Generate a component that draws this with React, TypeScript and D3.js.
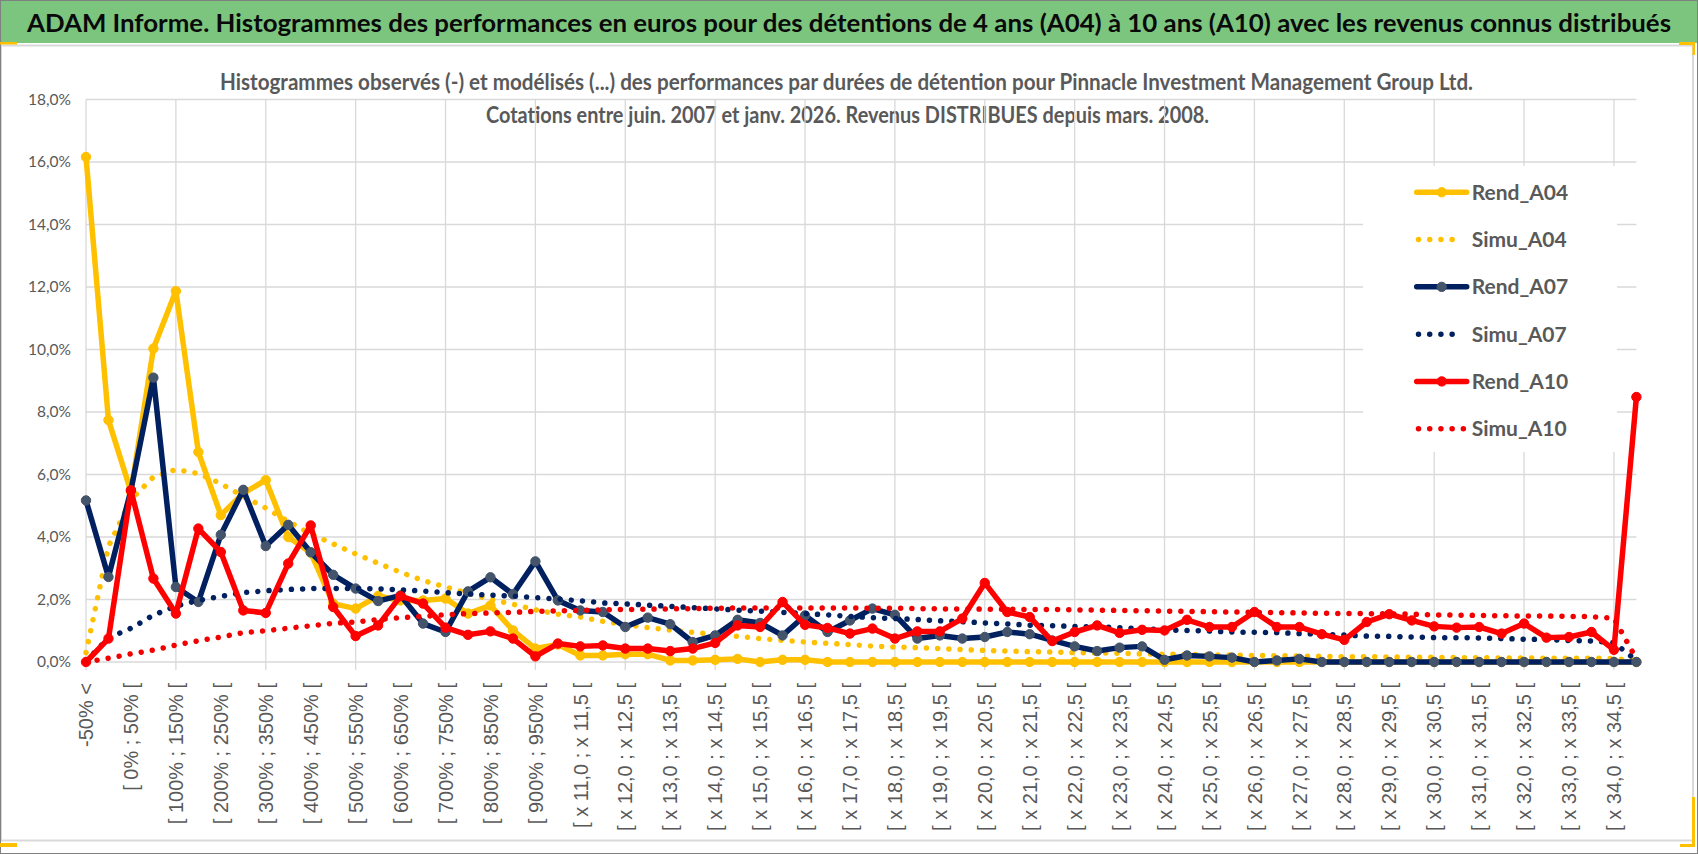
import React, { useEffect, useRef } from 'react';
import * as d3 from 'd3';

const categories = [
  '-50% <', '[ -50% ; 0% [', '[ 0% ; 50% [', '[ 50% ; 100% [', '[ 100% ; 150% [', '[ 150% ; 200% [',
  '[ 200% ; 250% [', '[ 250% ; 300% [', '[ 300% ; 350% [', '[ 350% ; 400% [', '[ 400% ; 450% [',
  '[ 450% ; 500% [', '[ 500% ; 550% [', '[ 550% ; 600% [', '[ 600% ; 650% [', '[ 650% ; 700% [',
  '[ 700% ; 750% [', '[ 750% ; 800% [', '[ 800% ; 850% [', '[ 850% ; 900% [', '[ 900% ; 950% [',
  '[ 950% ; x 11,0 [', '[ x 11,0 ; x 11,5 [', '[ x 11,5 ; x 12,0 [', '[ x 12,0 ; x 12,5 [', '[ x 12,5 ; x 13,0 [',
  '[ x 13,0 ; x 13,5 [', '[ x 13,5 ; x 14,0 [', '[ x 14,0 ; x 14,5 [', '[ x 14,5 ; x 15,0 [', '[ x 15,0 ; x 15,5 [',
  '[ x 15,5 ; x 16,0 [', '[ x 16,0 ; x 16,5 [', '[ x 16,5 ; x 17,0 [', '[ x 17,0 ; x 17,5 [', '[ x 17,5 ; x 18,0 [',
  '[ x 18,0 ; x 18,5 [', '[ x 18,5 ; x 19,0 [', '[ x 19,0 ; x 19,5 [', '[ x 19,5 ; x 20,0 [', '[ x 20,0 ; x 20,5 [',
  '[ x 20,5 ; x 21,0 [', '[ x 21,0 ; x 21,5 [', '[ x 21,5 ; x 22,0 [', '[ x 22,0 ; x 22,5 [', '[ x 22,5 ; x 23,0 [',
  '[ x 23,0 ; x 23,5 [', '[ x 23,5 ; x 24,0 [', '[ x 24,0 ; x 24,5 [', '[ x 24,5 ; x 25,0 [', '[ x 25,0 ; x 25,5 [',
  '[ x 25,5 ; x 26,0 [', '[ x 26,0 ; x 26,5 [', '[ x 26,5 ; x 27,0 [', '[ x 27,0 ; x 27,5 [', '[ x 27,5 ; x 28,0 [',
  '[ x 28,0 ; x 28,5 [', '[ x 28,5 ; x 29,0 [', '[ x 29,0 ; x 29,5 [', '[ x 29,5 ; x 30,0 [', '[ x 30,0 ; x 30,5 [',
  '[ x 30,5 ; x 31,0 [', '[ x 31,0 ; x 31,5 [', '[ x 31,5 ; x 32,0 [', '[ x 32,0 ; x 32,5 [', '[ x 32,5 ; x 33,0 [',
  '[ x 33,0 ; x 33,5 [', '[ x 33,5 ; x 34,0 [', '[ x 34,0 ; x 34,5 [', 'x 34,5 <',
];

const rendA04 = [
  16.16, 7.74, 5.45, 10.03, 11.87, 6.72, 4.70, 5.40, 5.82, 4.00,
  3.50, 1.87, 1.71, 2.11, 1.97, 1.97, 2.03, 1.55, 1.81, 1.01,
  0.43, 0.56, 0.21, 0.21, 0.25, 0.25, 0.05, 0.05, 0.07, 0.10,
  0.00, 0.07, 0.07, 0.00, 0.00, 0.00, 0.00, 0.00, 0.00, 0.00,
  0.00, 0.00, 0.00, 0.00, 0.00, 0.00, 0.00, 0.00, 0.00, 0.00,
  0.00, 0.00, 0.00, 0.00, 0.00, 0.00, 0.00, 0.00, 0.00, 0.00,
  0.00, 0.00, 0.00, 0.00, 0.00, 0.00, 0.00, 0.00, 0.00, 0.00,
];

const simuA04 = [
  0.30, 3.70, 5.20, 5.92, 6.16, 6.03, 5.71, 5.30, 4.93, 4.50,
  4.10, 3.78, 3.46, 3.16, 2.87, 2.61, 2.40, 2.20, 2.00, 1.85,
  1.67, 1.53, 1.44, 1.30, 1.20, 1.10, 1.02, 0.95, 0.88, 0.82,
  0.75, 0.69, 0.64, 0.60, 0.56, 0.51, 0.48, 0.46, 0.43, 0.40,
  0.37, 0.35, 0.33, 0.32, 0.30, 0.29, 0.28, 0.26, 0.25, 0.24,
  0.23, 0.22, 0.21, 0.20, 0.19, 0.18, 0.17, 0.17, 0.16, 0.15,
  0.15, 0.14, 0.14, 0.13, 0.13, 0.12, 0.12, 0.12, 0.11, 0.05,
];

const rendA07 = [
  5.17, 2.72, 5.50, 9.10, 2.40, 1.92, 4.07, 5.51, 3.71, 4.39,
  3.51, 2.79, 2.35, 1.95, 2.13, 1.23, 0.96, 2.26, 2.71, 2.17,
  3.22, 1.97, 1.65, 1.60, 1.12, 1.42, 1.21, 0.64, 0.85, 1.35,
  1.25, 0.85, 1.49, 0.96, 1.33, 1.71, 1.51, 0.75, 0.85, 0.75,
  0.80, 0.96, 0.89, 0.69, 0.50, 0.35, 0.46, 0.50, 0.07, 0.21,
  0.18, 0.14, 0.00, 0.05, 0.10, 0.00, 0.00, 0.00, 0.00, 0.00,
  0.00, 0.00, 0.00, 0.00, 0.00, 0.00, 0.00, 0.00, 0.00, 0.00,
];

const simuA07 = [
  0.02, 0.77, 1.08, 1.50, 1.79, 1.97, 2.10, 2.22, 2.28, 2.32,
  2.35, 2.35, 2.35, 2.34, 2.31, 2.27, 2.22, 2.18, 2.14, 2.11,
  2.06, 2.01, 1.96, 1.89, 1.86, 1.82, 1.78, 1.74, 1.70, 1.66,
  1.63, 1.59, 1.55, 1.51, 1.46, 1.42, 1.39, 1.36, 1.32, 1.29,
  1.25, 1.22, 1.18, 1.16, 1.14, 1.12, 1.10, 1.06, 1.03, 1.01,
  0.99, 0.96, 0.95, 0.94, 0.91, 0.89, 0.86, 0.83, 0.82, 0.80,
  0.78, 0.78, 0.77, 0.75, 0.73, 0.72, 0.69, 0.67, 0.62, 0.05,
];

const rendA10 = [
  0.00, 0.75, 5.49, 2.67, 1.55, 4.27, 3.52, 1.65, 1.57, 3.15,
  4.37, 1.76, 0.83, 1.17, 2.11, 1.87, 1.10, 0.87, 0.98, 0.75,
  0.18, 0.59, 0.50, 0.53, 0.43, 0.43, 0.35, 0.43, 0.61, 1.17,
  1.12, 1.92, 1.19, 1.09, 0.91, 1.07, 0.75, 0.98, 0.98, 1.39,
  2.53, 1.60, 1.44, 0.67, 0.96, 1.17, 0.93, 1.03, 1.01, 1.35,
  1.12, 1.12, 1.60, 1.12, 1.12, 0.89, 0.71, 1.28, 1.53, 1.33,
  1.14, 1.10, 1.12, 0.91, 1.23, 0.78, 0.80, 0.96, 0.39, 8.48,
];

const simuA10 = [
  0.00, 0.12, 0.26, 0.38, 0.54, 0.68, 0.80, 0.94, 1.00, 1.08,
  1.16, 1.24, 1.28, 1.36, 1.42, 1.46, 1.51, 1.55, 1.57, 1.59,
  1.62, 1.64, 1.65, 1.67, 1.68, 1.69, 1.70, 1.71, 1.72, 1.73,
  1.73, 1.73, 1.73, 1.73, 1.73, 1.72, 1.72, 1.71, 1.70, 1.70,
  1.69, 1.69, 1.68, 1.68, 1.67, 1.66, 1.65, 1.64, 1.63, 1.62,
  1.61, 1.60, 1.59, 1.58, 1.57, 1.56, 1.55, 1.55, 1.54, 1.53,
  1.51, 1.50, 1.49, 1.48, 1.47, 1.47, 1.46, 1.45, 1.40, 0.10,
];

const yTicks = [0, 2, 4, 6, 8, 10, 12, 14, 16, 18];

const seriesNames = ['Rend_A04', 'Simu_A04', 'Rend_A07', 'Simu_A07', 'Rend_A10', 'Simu_A10'];

const TITLE = 'ADAM Informe. Histogrammes des performances en euros pour des détentions de 4 ans (A04) à 10 ans (A10) avec les revenus connus distribués';
const SUB1 = 'Histogrammes observés (-) et modélisés (...) des performances par durées de détention pour Pinnacle Investment Management Group Ltd.';
const SUB2 = 'Cotations entre juin. 2007 et janv. 2026. Revenus DISTRIBUES depuis mars. 2008.';

const W = 1698;
const H = 854;

export default function App() {
  const ref = useRef<SVGSVGElement>(null);

  useEffect(() => {
    const svg = d3.select(ref.current);
    svg.selectAll('*').remove();

    const x = d3.scalePoint<string>().domain(categories).range([86, 1636.4]);
    const y = d3.scaleLinear().domain([0, 18]).range([662, 99.5]);

    // background frames
    svg.append('rect').attr('x', 0).attr('y', 0).attr('width', W).attr('height', H).attr('fill', '#ffffff');
    svg.append('rect').attr('x', 1).attr('y', 45.5).attr('width', 1692).attr('height', 795)
      .attr('fill', '#ffffff').attr('stroke', '#D9D9D9').attr('stroke-width', 2);
    svg.append('rect').attr('x', 0).attr('y', 0).attr('width', W).attr('height', 43).attr('fill', '#7CC57E');
    svg.append('rect').attr('x', 0.5).attr('y', 0.5).attr('width', W - 1).attr('height', H - 1)
      .attr('fill', 'none').attr('stroke', '#808080').attr('stroke-width', 1);

    // yellow corner handles
    const yellow = '#FFC000';
    [[0, 42, 17, 2.5], [1679, 42, 16, 3], [1692.5, 42, 2.5, 13], [1692, 797, 3, 50], [1680, 844, 15, 3], [0, 843, 17, 4]]
      .forEach(([rx, ry, rw, rh]) => {
        svg.append('rect').attr('x', rx).attr('y', ry).attr('width', rw).attr('height', rh).attr('fill', yellow);
      });

    // title
    svg.append('text').attr('x', 27).attr('y', 31.5)
      .attr('font-family', 'Lato, "Noto Sans", sans-serif').attr('font-weight', 700).attr('font-size', 25.5)
      .attr('fill', '#0a0a0a').attr('textLength', 1644).attr('lengthAdjust', 'spacingAndGlyphs').text(TITLE);

    // subtitle
    const subG = svg.append('g').attr('font-family', 'Lato, "Noto Sans", sans-serif').attr('font-weight', 700)
      .attr('font-size', 22).attr('fill', '#595959').attr('text-anchor', 'middle');
    subG.append('text').attr('x', 846.5).attr('y', 90).attr('textLength', 1253).attr('lengthAdjust', 'spacingAndGlyphs').text(SUB1);
    subG.append('text').attr('x', 847.5).attr('y', 123).attr('textLength', 723).attr('lengthAdjust', 'spacingAndGlyphs').text(SUB2);

    const grid = '#D9D9D9';
    const x0 = x(categories[0]) as number;
    const x1 = x(categories[categories.length - 1]) as number;

    // horizontal gridlines
    svg.append('g').selectAll('line').data(yTicks).join('line')
      .attr('x1', x0).attr('x2', x1).attr('y1', (d) => y(d)).attr('y2', (d) => y(d))
      .attr('stroke', grid).attr('stroke-width', 1.3);

    // vertical gridlines every 4 categories
    const vCats = categories.filter((_, i) => i % 4 === 0);
    svg.append('g').selectAll('line').data(vCats).join('line')
      .attr('x1', (d) => x(d) as number).attr('x2', (d) => x(d) as number)
      .attr('y1', y(18)).attr('y2', y(0) + 8)
      .attr('stroke', grid).attr('stroke-width', 1.3);

    // y axis labels
    svg.append('g').selectAll('text').data(yTicks).join('text')
      .attr('x', 71).attr('y', (d) => y(d)).attr('dy', '0.35em').attr('text-anchor', 'end')
      .attr('font-family', 'Lato, "Noto Sans", sans-serif').attr('font-size', 15.5).attr('fill', '#595959')
      .text((d) => d3.format('.1f')(d).replace('.', ',') + '%');

    // x axis labels (every other category)
    const lCats = categories.filter((_, i) => i % 2 === 0);
    svg.append('g').selectAll('text').data(lCats).join('text')
      .attr('transform', (d) => `translate(${x(d)},683) rotate(-90)`)
      .attr('dy', '0.36em').attr('text-anchor', 'end')
      .attr('font-family', '"Liberation Sans", Arial, sans-serif').attr('font-size', 20).attr('fill', '#595959')
      .attr('xml:space', 'preserve')
      .text((d) => d);

    const seriesValues = [rendA04, simuA04, rendA07, simuA07, rendA10, simuA10];
    const lineColors = ['#FFC000', '#FFC000', '#002060', '#002060', '#FF0000', '#F20000'];
    const markerColors = ['#FFC000', null, '#44546A', null, '#FF0000', null];

    const line = d3.line<number>()
      .x((_, i) => x(categories[i]) as number)
      .y((d) => y(d));

    seriesNames.forEach((name, si) => {
      const vals = seriesValues[si];
      const dotted = name.startsWith('Simu');
      const g = svg.append('g').attr('class', name);
      g.append('path').attr('d', line(vals) as string).attr('fill', 'none')
        .attr('stroke', lineColors[si]).attr('stroke-width', 5.5)
        .attr('stroke-linejoin', 'round').attr('stroke-linecap', 'round')
        .attr('stroke-dasharray', dotted ? '0.01 11.2' : null);
      const mc = markerColors[si];
      if (mc) {
        g.selectAll('circle').data(vals).join('circle')
          .attr('cx', (_, i) => x(categories[i]) as number).attr('cy', (d) => y(d))
          .attr('r', 4.7).attr('fill', mc).attr('stroke', mc).attr('stroke-width', 1);
      }
    });

    // legend
    const lg = svg.append('g');
    lg.append('rect').attr('x', 1363).attr('y', 166).attr('width', 254).attr('height', 286).attr('fill', '#ffffff');
    const legendY = d3.scaleLinear().domain([0, 5]).range([192.3, 428.7]);
    seriesNames.forEach((name, si) => {
      const ly = legendY(si);
      const dotted = name.startsWith('Simu');
      const xEnd = dotted ? (si === 5 ? 1463.5 : 1453) : 1466.7;
      const xStart = dotted ? 1418.5 : 1416.7;
      lg.append('line').attr('x1', xStart).attr('x2', xEnd).attr('y1', ly).attr('y2', ly)
        .attr('stroke', lineColors[si]).attr('stroke-width', 5.5)
        .attr('stroke-linecap', 'round')
        .attr('stroke-dasharray', dotted ? '0.01 11.2' : null);
      const mc = markerColors[si];
      if (mc) {
        lg.append('circle').attr('cx', 1441.7).attr('cy', ly).attr('r', 4.7).attr('fill', mc).attr('stroke', mc);
      }
      lg.append('text').attr('x', 1471.7).attr('y', ly).attr('dy', '0.36em')
        .attr('font-family', 'Lato, "Noto Sans", sans-serif').attr('font-weight', 700).attr('font-size', 21)
        .attr('fill', '#595959').text(name);
    });
  }, []);

  return (
    <svg
      ref={ref}
      width={W}
      height={H}
      style={{ position: 'absolute', left: 0, top: 0, display: 'block' }}
    />
  );
}
